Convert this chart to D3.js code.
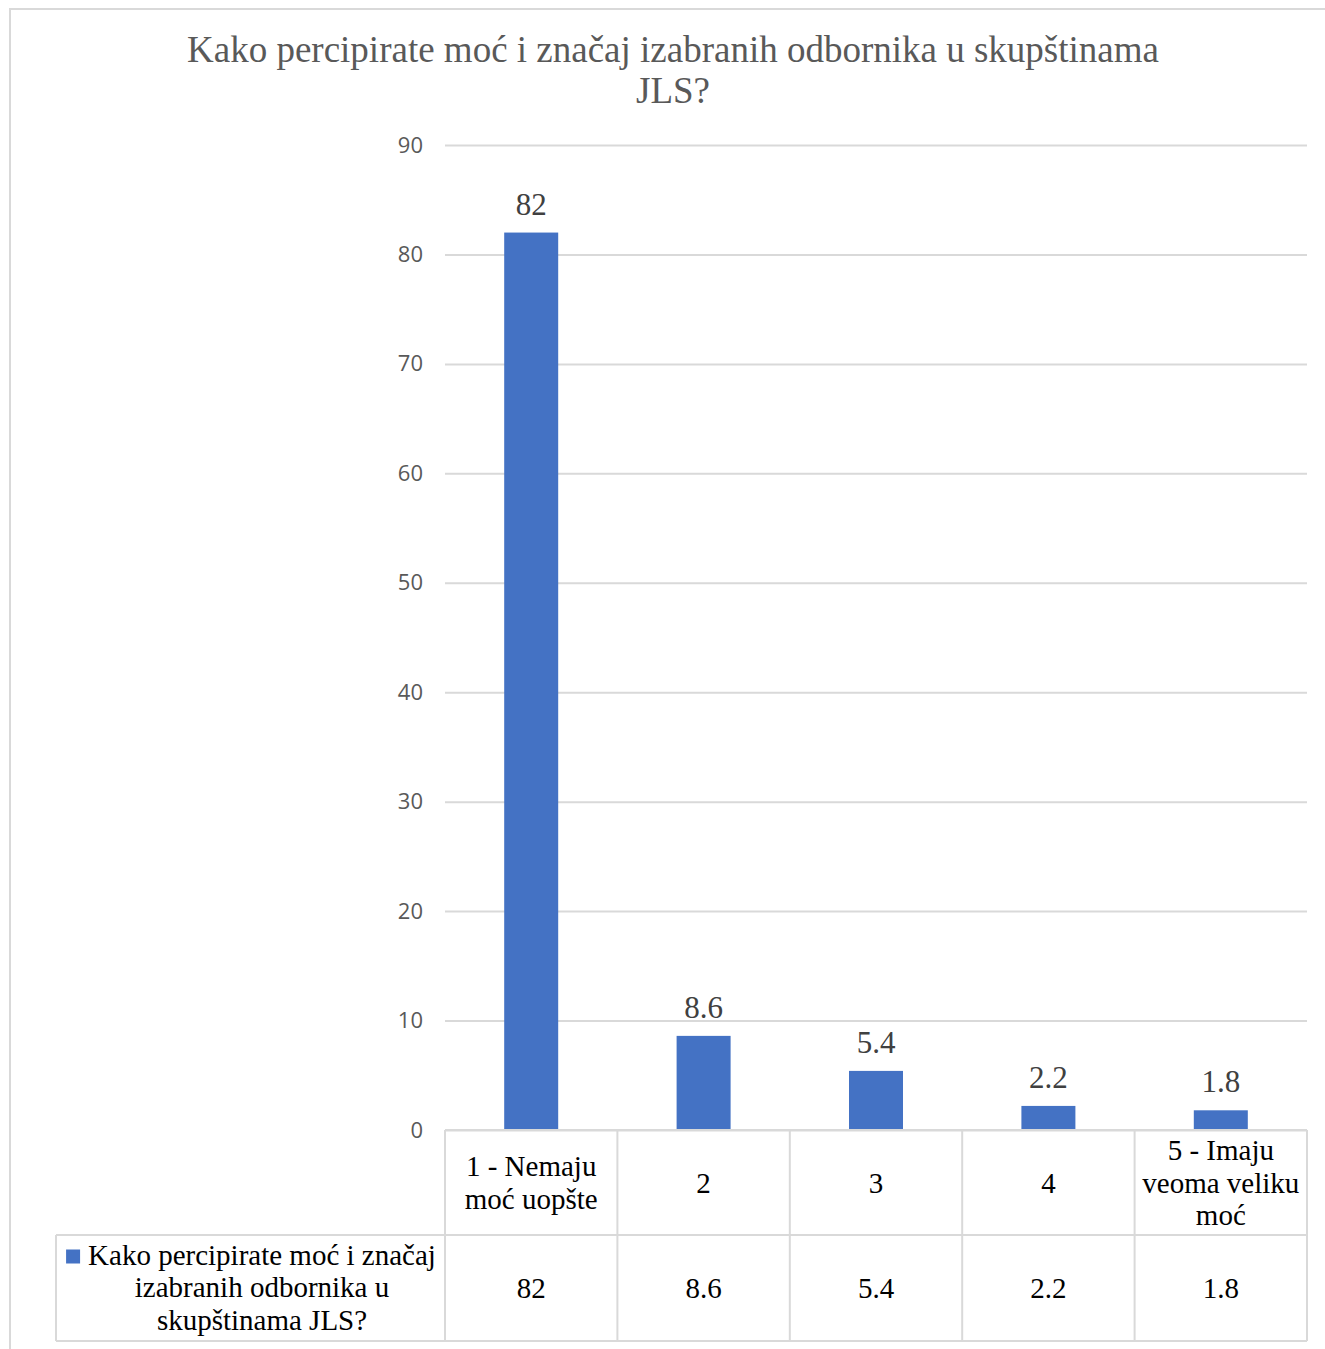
<!DOCTYPE html>
<html>
<head>
<meta charset="utf-8">
<script src="https://cdn.jsdelivr.net/npm/d3@7"></script>
<style>
  html, body { margin: 0; padding: 0; background: #fff; }
  svg { display: block; }
</style>
</head>
<body>
<script>
const titleLines = ["Kako percipirate moć i značaj izabranih odbornika u skupštinama", "JLS?"];
const categories = ["1 - Nemaju moć uopšte", "2", "3", "4", "5 - Imaju veoma veliku moć"];
const categoryLines = [["1 - Nemaju", "moć uopšte"], ["2"], ["3"], ["4"], ["5 - Imaju", "veoma veliku", "moć"]];
const values = [82, 8.6, 5.4, 2.2, 1.8];
const valueLabels = ["82", "8.6", "5.4", "2.2", "1.8"];
const seriesName = "Kako percipirate moć i značaj izabranih odbornika u skupštinama JLS?";
const seriesNameLines = ["Kako percipirate moć i značaj", "izabranih odbornika u", "skupštinama JLS?"];
const yTicks = [0, 10, 20, 30, 40, 50, 60, 70, 80, 90];

const W = 1325, H = 1349;
const serif = "'Liberation Serif', 'Times New Roman', serif";
const sans = "'Open Sans', 'Liberation Sans', sans-serif";
const gridColor = "#d9d9d9";
const barColor = "#4472c4";

const svg = d3.select("body").append("svg").attr("width", W).attr("height", H);

// outer chart border
svg.append("rect").attr("x", 10).attr("y", 9).attr("width", 1400).attr("height", 1400)
  .attr("fill", "#fff").attr("stroke", gridColor).attr("stroke-width", 2);

// title
const title = svg.append("text").attr("font-family", serif).attr("font-size", 37).attr("fill", "#595959")
  .attr("text-anchor", "middle");
title.selectAll("tspan").data(titleLines).join("tspan")
  .attr("x", 673).attr("y", (d, i) => 62 + i * 41).text(d => d);

// plot area
const plotLeft = 445, plotRight = 1307, plotTop = 145, plotBottom = 1130;
const x = d3.scaleBand().domain(categories).range([plotLeft, plotRight]).paddingInner(0).paddingOuter(0);
const y = d3.scaleLinear().domain([0, 90]).range([plotBottom, plotTop]);

// gridlines
const yAxis = d3.axisLeft(y).tickValues(yTicks).tickSize(-(plotRight - plotLeft)).tickPadding(22).tickFormat(d3.format("d"));
const ga = svg.append("g").attr("transform", `translate(${plotLeft},0)`).call(yAxis);
ga.select(".domain").remove();
ga.selectAll(".tick line").attr("stroke", gridColor).attr("stroke-width", 2);
ga.selectAll(".tick text").attr("font-family", sans).attr("font-size", 22).attr("fill", "#595959");

// bars
const barW = 54;
svg.append("g").selectAll("rect").data(values).join("rect")
  .attr("x", (d, i) => x(categories[i]) + x.bandwidth() / 2 - barW / 2)
  .attr("width", barW)
  .attr("y", d => y(d))
  .attr("height", d => y(0) - y(d))
  .attr("fill", barColor);

// data labels
svg.append("g").selectAll("text").data(values).join("text")
  .attr("x", (d, i) => x(categories[i]) + x.bandwidth() / 2)
  .attr("y", d => y(d) - 18)
  .attr("text-anchor", "middle")
  .attr("font-family", serif).attr("font-size", 31).attr("fill", "#404040")
  .text((d, i) => valueLabels[i]);

// data table
const rowTop = 1130, rowMid = 1235, rowBot = 1341, legendLeft = 56;
const tbl = svg.append("g").attr("stroke", gridColor).attr("stroke-width", 2).attr("fill", "none");
tbl.append("line").attr("x1", plotLeft).attr("x2", plotRight).attr("y1", rowTop).attr("y2", rowTop);
tbl.append("line").attr("x1", legendLeft).attr("x2", plotRight).attr("y1", rowMid).attr("y2", rowMid);
tbl.append("line").attr("x1", legendLeft).attr("x2", plotRight).attr("y1", rowBot).attr("y2", rowBot);
const vx = categories.map(c => x(c)).concat([plotRight]);
tbl.selectAll("line.v").data(vx).join("line").attr("class", "v")
  .attr("x1", d => d).attr("x2", d => d).attr("y1", rowTop).attr("y2", rowBot);
tbl.append("line").attr("x1", legendLeft).attr("x2", legendLeft).attr("y1", rowMid).attr("y2", rowBot);

const fs = 29, lh = 32.5;
// header cells
const hdr = svg.append("g").attr("font-family", serif).attr("font-size", fs).attr("fill", "#000").attr("text-anchor", "middle");
categories.forEach((c, i) => {
  const lines = categoryLines[i];
  const cx = x(c) + x.bandwidth() / 2;
  const cy = (rowTop + rowMid) / 2;
  const t = hdr.append("text");
  t.selectAll("tspan").data(lines).join("tspan")
    .attr("x", cx)
    .attr("y", (d, j) => cy + (j - (lines.length - 1) / 2) * lh + 10)
    .text(d => d);
});
// value cells
const vals = svg.append("g").attr("font-family", serif).attr("font-size", fs).attr("fill", "#000").attr("text-anchor", "middle");
vals.selectAll("text").data(values).join("text")
  .attr("x", (d, i) => x(categories[i]) + x.bandwidth() / 2)
  .attr("y", (rowMid + rowBot) / 2 + 10)
  .text((d, i) => valueLabels[i]);

// legend cell
const lcx = 262, lcy = (rowMid + rowBot) / 2;
const leg = svg.append("text").attr("font-family", serif).attr("font-size", fs).attr("fill", "#000").attr("text-anchor", "middle");
leg.selectAll("tspan").data(seriesNameLines).join("tspan")
  .attr("x", lcx)
  .attr("y", (d, j) => lcy + (j - 1) * lh + 9)
  .text(d => d);
const firstLen = leg.select("tspan").node().getComputedTextLength();
svg.append("rect")
  .attr("x", lcx - firstLen / 2 - 22).attr("y", lcy - lh + 9 - 15)
  .attr("width", 14).attr("height", 14).attr("fill", barColor);
</script>
</body>
</html>
